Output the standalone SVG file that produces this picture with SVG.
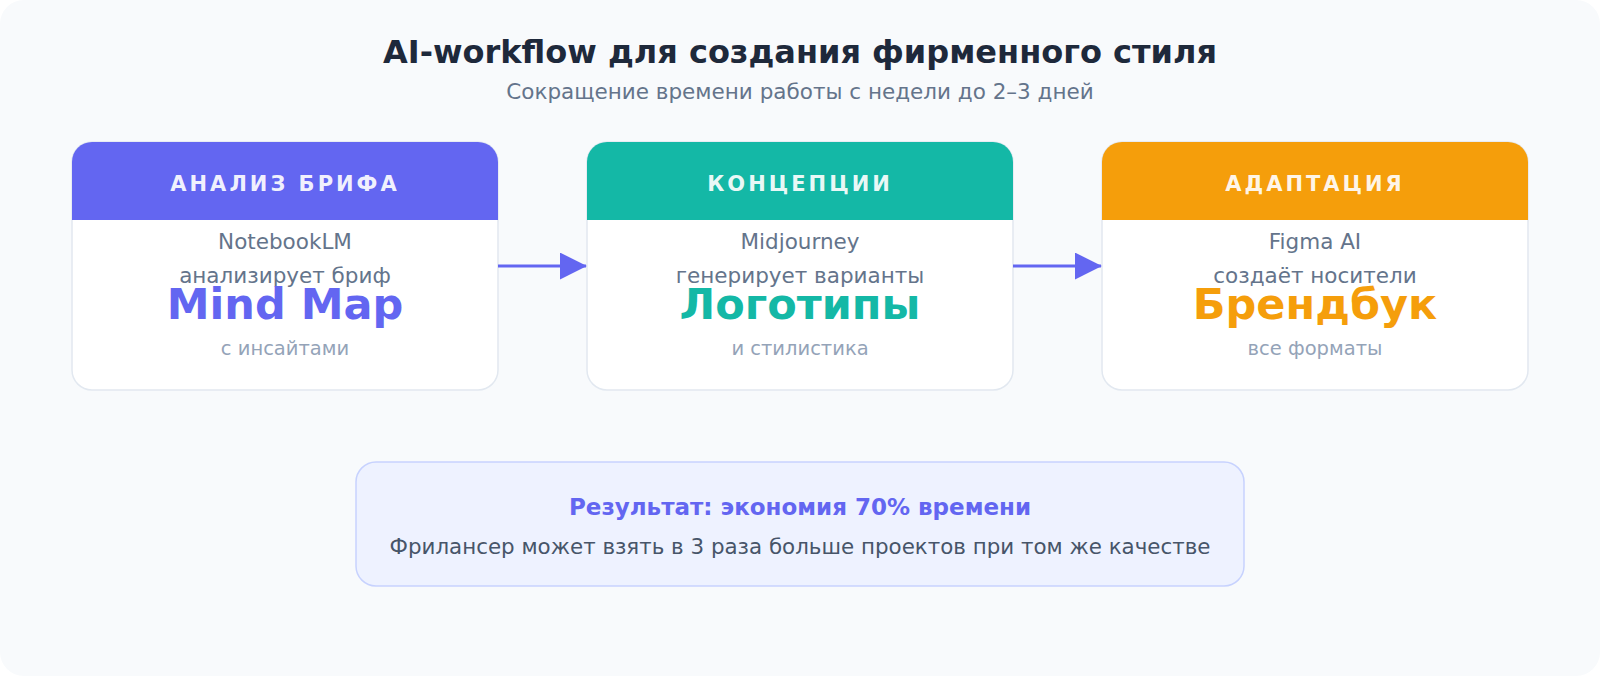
<svg xmlns="http://www.w3.org/2000/svg" width="1600" height="676" viewBox="0 0 1600 676">
<defs>
<style>
.t{font-family:"DejaVu Sans","Liberation Sans",sans-serif;text-anchor:middle}
.title{font-size:32px;font-weight:bold;fill:#1e293b}
.sub{font-size:21.5px;fill:#64748b}
.card{fill:#ffffff;stroke:#e2e8f0;stroke-width:1.5}
.htxt{font-size:21px;font-weight:bold;fill:#ffffff;fill-opacity:0.92;letter-spacing:3px}
.tool{font-size:21.5px;fill:#64748b}
.big{font-size:43px;font-weight:bold}
.note{font-size:19.5px;fill:#94a3b8}
.conn{stroke:#6366f1;stroke-width:3;fill:none}
</style>
<marker id="ah" markerWidth="9" markerHeight="9" refX="8.7" refY="4.5" orient="auto" markerUnits="strokeWidth">
<path d="M0,0 L9,4.5 L0,9 Z" fill="#6366f1"/>
</marker>
</defs>
<rect x="0" y="0" width="1600" height="676" rx="24" fill="#f8fafc"/>
<g id="header">
<text class="t title" x="800" y="63">AI-workflow для создания фирменного стиля</text>
<text class="t sub" x="800" y="99">Сокращение времени работы с недели до 2–3 дней</text>
</g>
<g id="node-brief">
<rect class="card" x="72" y="142" width="426" height="248" rx="20"/>
<path d="M72,220 V162 A20,20 0 0 1 92,142 H478 A20,20 0 0 1 498,162 V220 Z" fill="#6366f1"/>
<text class="t htxt" x="285" y="191">АНАЛИЗ БРИФА</text>
<text class="t tool" x="285" y="249">NotebookLM</text>
<text class="t tool" x="285" y="283">анализирует бриф</text>
<text class="t big" x="285" y="319" fill="#6366f1">Mind Map</text>
<text class="t note" x="285" y="355">с инсайтами</text>
</g>
<g id="node-concepts">
<rect class="card" x="587" y="142" width="426" height="248" rx="20"/>
<path d="M587,220 V162 A20,20 0 0 1 607,142 H993 A20,20 0 0 1 1013,162 V220 Z" fill="#14b8a6"/>
<text class="t htxt" x="800" y="191">КОНЦЕПЦИИ</text>
<text class="t tool" x="800" y="249">Midjourney</text>
<text class="t tool" x="800" y="283">генерирует варианты</text>
<text class="t big" x="800" y="319" fill="#14b8a6">Логотипы</text>
<text class="t note" x="800" y="355">и стилистика</text>
</g>
<g id="node-adapt">
<rect class="card" x="1102" y="142" width="426" height="248" rx="20"/>
<path d="M1102,220 V162 A20,20 0 0 1 1122,142 H1508 A20,20 0 0 1 1528,162 V220 Z" fill="#f59e0b"/>
<text class="t htxt" x="1315" y="191">АДАПТАЦИЯ</text>
<text class="t tool" x="1315" y="249">Figma AI</text>
<text class="t tool" x="1315" y="283">создаёт носители</text>
<text class="t big" x="1315" y="319" fill="#f59e0b">Брендбук</text>
<text class="t note" x="1315" y="355">все форматы</text>
</g>
<g id="connectors">
<line class="conn" x1="498" y1="266" x2="586" y2="266" marker-end="url(#ah)"/>
<line class="conn" x1="1013" y1="266" x2="1101" y2="266" marker-end="url(#ah)"/>
</g>
<g id="result">
<rect x="356" y="462" width="888" height="124" rx="20" fill="#eef2ff" stroke="#c7d2fe" stroke-width="1.5"/>
<text class="t" x="800" y="515" font-size="23" font-weight="bold" fill="#6366f1">Результат: экономия 70% времени</text>
<text class="t" x="800" y="554" font-size="21.4" fill="#475569">Фрилансер может взять в 3 раза больше проектов при том же качестве</text>
</g>
</svg>
